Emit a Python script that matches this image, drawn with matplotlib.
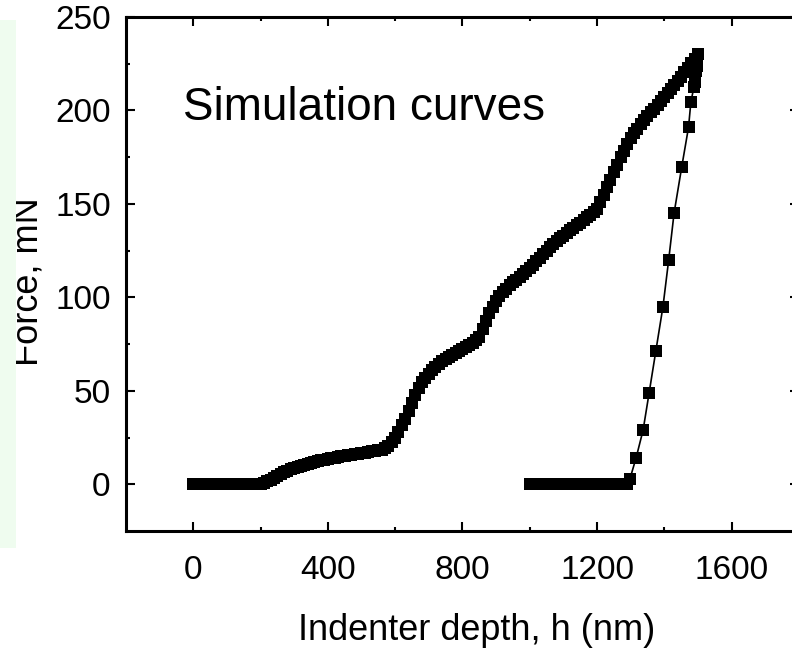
import matplotlib.pyplot as plt
import numpy as np
from matplotlib.patches import Rectangle

plt.rcParams['font.family'] = ['Liberation Sans', 'DejaVu Sans']

# loading curve, one point every 10 nm from 0 to 1500 nm
load_depth = np.arange(0, 1501, 10)
load_force = [
    0, 0, 0, 0, 0, 0, 0, 0, 0, 0, 0, 0, 0, 0, 0, 0, 0, 0, 0, 0, 0,
    0.5, 1.5, 2.5, 3.5, 4.5, 5.5, 6.5, 7.3, 8.0, 8.7,
    9.3, 9.9, 10.5, 11.0, 11.5, 12.0, 12.4, 12.8, 13.2, 13.6,
    14.0, 14.3, 14.6, 14.9, 15.2, 15.5, 15.8, 16.1, 16.4, 16.7,
    17.0, 17.3, 17.6, 17.9, 18.2, 18.6, 19.3, 20.5, 22.5, 25.0,
    28.0, 31.5, 35.0, 39.0, 43.5, 48.0, 51.5, 54.5, 57.0, 59.0,
    61.0, 62.8, 64.4, 65.8, 67.0, 68.2, 69.3, 70.4, 71.5, 72.5,
    73.6, 74.7, 75.8, 77.0, 79.0, 83.0, 87.5, 91.5, 95.0, 98.0,
    100.5, 102.7, 104.6, 106.4, 108.0, 109.5, 111.0, 112.5, 114.0, 115.5,
    117.3, 119.2, 121.1, 123.0, 125.0, 126.8, 128.5, 130.1, 131.6, 133.0,
    134.4, 135.8, 137.2, 138.6, 140.0, 141.4, 142.8, 144.2, 145.6, 147.5,
    151.0, 155.0, 159.0, 163.0, 167.0, 171.0, 175.0, 178.5, 182.0, 185.0,
    187.8, 190.3, 192.6, 194.8, 197.0, 199.0, 201.0, 203.0, 205.0, 207.0,
    209.2, 211.4, 213.6, 215.8, 218.0, 220.4, 222.8, 225.2, 227.6, 230.0,
]

# unloading curve
unload_depth = [1500, 1498, 1496, 1494, 1492, 1490, 1488, 1479, 1472, 1452,
                1429, 1413, 1396, 1375, 1355, 1337, 1316, 1298,
                1290, 1280, 1270, 1260, 1250, 1240, 1230, 1220, 1210, 1200,
                1190, 1180, 1170, 1160, 1150, 1140, 1130, 1120, 1110, 1100,
                1090, 1080, 1070, 1060, 1050, 1040, 1030, 1020, 1010, 1000]
unload_force = [230, 227, 224, 221, 218, 215, 212.5, 204.5, 191, 170,
                145, 120, 95, 71.5, 49, 29, 14, 3,
                0, 0, 0, 0, 0, 0, 0, 0, 0, 0,
                0, 0, 0, 0, 0, 0, 0, 0, 0, 0,
                0, 0, 0, 0, 0, 0, 0, 0, 0, 0]

fig = plt.figure(figsize=(7.92, 6.49), dpi=100)
# faint green strip on the left edge
fig.patches.append(Rectangle((0, 1 - 548 / 649), 16 / 792, 528 / 649,
                             transform=fig.transFigure, facecolor='#effcef',
                             edgecolor='none', zorder=0))
ax = fig.add_axes([0.159, 0.1818, 0.8497, 0.792])

ax.plot(load_depth, load_force, 's', color='black', markersize=8.5,
        markeredgewidth=0, clip_on=False)
ax.plot(unload_depth, unload_force, '-s', color='black', markersize=8.5,
        markeredgewidth=0, linewidth=1.2, clip_on=False)

ax.text(-30, 195, 'Simulation curves', fontsize=33, ha='left', va='baseline')

ax.set_xlim(-200, 1800)
ax.set_ylim(-25, 250)
ax.set_xticks([0, 400, 800, 1200, 1600])
ax.set_xticks([200, 600, 1000, 1400], minor=True)
ax.set_yticks([0, 50, 100, 150, 200, 250])
ax.set_yticks([25, 75, 125, 175, 225], minor=True)
ax.tick_params(which='both', direction='in', top=True, right=True, width=1.5)
ax.tick_params(which='major', length=6.5, labelsize=24)
ax.tick_params(which='minor', length=3)
ax.tick_params(axis='x', pad=17)
ax.tick_params(axis='y', pad=11)
for sp in ax.spines.values():
    sp.set_linewidth(2.2)

ax.set_xlabel('Indenter depth, h (nm)', fontsize=26)
ax.set_ylabel('Force, mN', fontsize=26)
ax.xaxis.set_label_coords(0.5216, -0.16)
ax.yaxis.set_label_coords(-0.12, 0.486)

fig.savefig('out.png', dpi=100)
